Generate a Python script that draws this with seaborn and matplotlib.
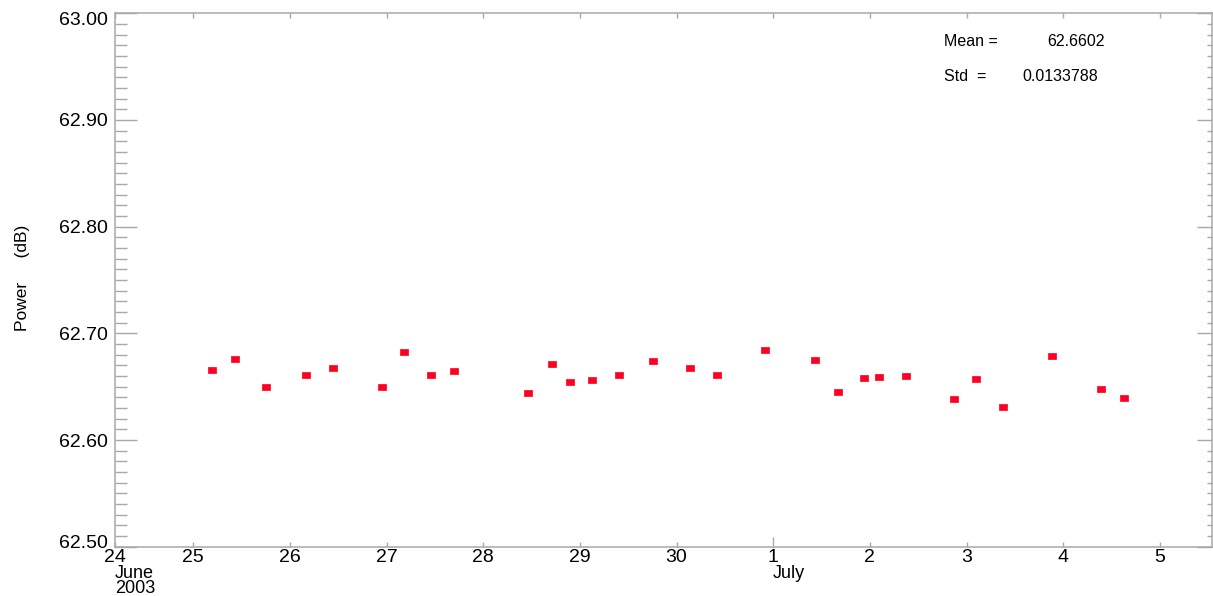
import numpy as np
import pandas as pd
import matplotlib
matplotlib.use("Agg")
import matplotlib.pyplot as plt
import matplotlib.transforms as mtransforms
from matplotlib.path import Path
import seaborn as sns

# day number counted from June 0 (so July 1 = 31)
days = [25.19, 25.43, 25.75, 26.17, 26.45, 26.95, 27.18, 27.46, 27.70,
        28.46, 28.71, 28.90, 29.13, 29.40, 29.76, 30.14, 30.42, 30.92,
        31.43, 31.67, 31.94, 32.09, 32.37, 32.87, 33.10, 33.38, 33.88,
        34.39, 34.63]
power = [62.6656, 62.6757, 62.6500, 62.6609, 62.6672, 62.6500, 62.6828,
         62.6612, 62.6644, 62.6443, 62.6710, 62.6544, 62.6563, 62.6607,
         62.6743, 62.6678, 62.6609, 62.6841, 62.6753, 62.6453, 62.6584,
         62.6588, 62.6597, 62.6387, 62.6569, 62.6309, 62.6790, 62.6481,
         62.6394]

x_ticks = [24.19, 25, 26, 27, 28, 29, 30, 31, 32, 33, 34, 35]
x_labels = ["24", "25", "26", "27", "28", "29", "30", "1", "2", "3", "4", "5"]
y_ticks = [62.5, 62.6, 62.7, 62.8, 62.9, 63.0]
y_labels = ["62.50", "62.60", "62.70", "62.80", "62.90", "63.00"]
stats_names = ["Mean =", "Std  ="]
stats_values = ["62.6602", "0.0133788"]

df = pd.DataFrame({"day": days, "power": power})

sns.set_style("white")
plt.rcParams["font.family"] = ["Liberation Sans", "DejaVu Sans"]
plt.rcParams["text.color"] = "black"
plt.rcParams["axes.labelcolor"] = "black"
plt.rcParams["xtick.labelcolor"] = "black"
plt.rcParams["ytick.labelcolor"] = "black"

W, H = 1213, 596
fig = plt.figure(figsize=(W / 100, H / 100), dpi=100)
ax = fig.add_axes([115 / W, 1 - 546.7 / H, 1097 / W, 533.4 / H])

rect = Path([(-1, -0.68), (1, -0.68), (1, 0.68), (-1, 0.68), (-1, -0.68)],
            [Path.MOVETO, Path.LINETO, Path.LINETO, Path.LINETO, Path.CLOSEPOLY])
sns.scatterplot(data=df, x="day", y="power", ax=ax, marker=rect, s=40,
                color="#ff0020", edgecolor="#ff0020", linewidth=0.5, legend=False)

ax.set_xlim(24.19, 35.54)
ax.set_ylim(62.5, 63.0)

grey = "#a8a8a8"
for sp in ax.spines.values():
    sp.set_visible(True)
    sp.set_color(grey)
    sp.set_linewidth(1.1)

ax.set_xticks(x_ticks)
ax.set_xticklabels(x_labels)
ax.set_yticks(y_ticks)
ax.set_yticklabels(y_labels)
ax.set_yticks(np.arange(62.5, 63.0, 0.01), minor=True)

ax.tick_params(axis="x", which="major", direction="in", length=3.6, width=1,
               color=grey, top=True, bottom=True, labelsize=14, pad=1.5,
               labelcolor="black")
ax.tick_params(axis="y", which="major", direction="in", length=15.8, width=1,
               color=grey, left=True, right=True, labelsize=14, pad=5,
               labelcolor="black")
ax.tick_params(axis="y", which="minor", direction="in", length=8.6, width=1,
               color=grey, left=True, right=True)

# shorter ticks on the right side
for t in ax.yaxis.get_major_ticks():
    t.tick2line.set_markersize(10.8)
for t in ax.yaxis.get_minor_ticks():
    t.tick2line.set_markersize(3.6)
# month boundary tick is longer
ax.xaxis.get_major_ticks()[7].tick1line.set_markersize(7.2)

# end labels of the y axis sit a little inside
ylabs = ax.get_yticklabels()
ylabs[0].set_transform(ylabs[0].get_transform() +
                       mtransforms.ScaledTranslation(0, 5 / 100, fig.dpi_scale_trans))
ylabs[-1].set_transform(ylabs[-1].get_transform() +
                        mtransforms.ScaledTranslation(0, -5 / 100, fig.dpi_scale_trans))

ax.set_xlabel("")
ax.set_ylabel("Power     (dB)", fontsize=12.5, va="center", color="black")
ax.yaxis.set_label_coords(-0.0839, 0.5037)

ax.text(24.19, -0.034, "June\n2003", transform=ax.get_xaxis_transform(),
        ha="left", va="top", fontsize=13, linespacing=0.85)
ax.text(31.0, -0.0505, "July", transform=ax.get_xaxis_transform(),
        ha="left", va="center", fontsize=13)

ax.text(0.7557, 0.9462, stats_names[0], transform=ax.transAxes,
        ha="left", va="center", fontsize=11.5)
ax.text(0.8496, 0.9462, stats_values[0], transform=ax.transAxes,
        ha="left", va="center", fontsize=11.5)
ax.text(0.7557, 0.8806, stats_names[1], transform=ax.transAxes,
        ha="left", va="center", fontsize=11.5)
ax.text(0.8268, 0.8806, stats_values[1], transform=ax.transAxes,
        ha="left", va="center", fontsize=11.5)

fig.savefig("out.png", dpi=100)
plt.close(fig)
